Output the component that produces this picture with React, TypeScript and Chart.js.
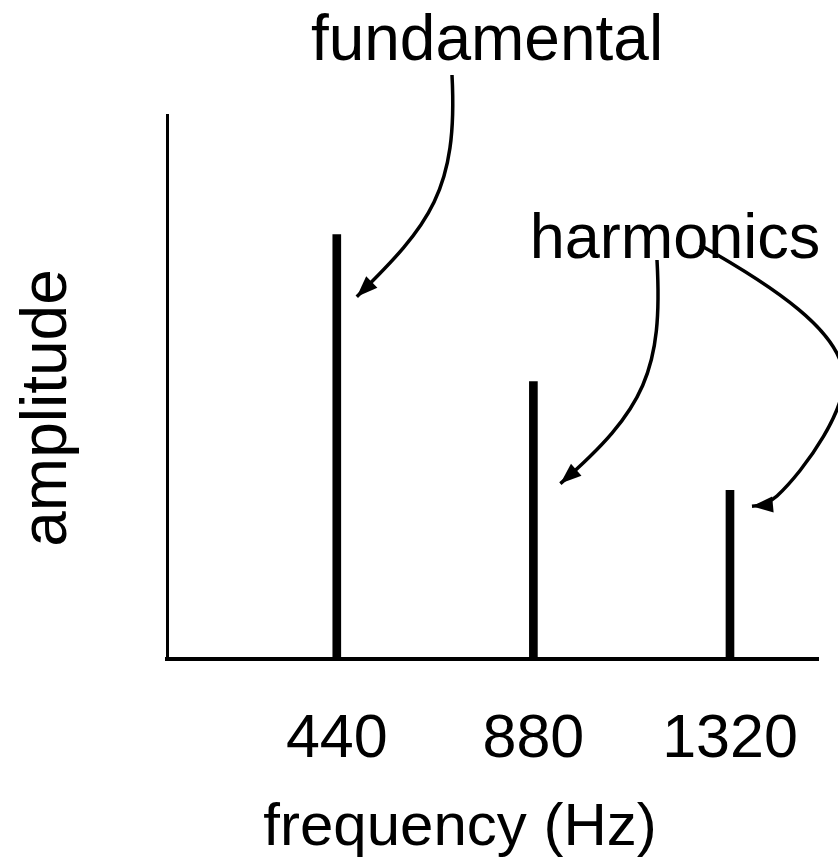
import React, { useEffect, useRef } from 'react';
import { Chart, registerables } from 'chart.js';

Chart.register(...registerables);

// ---- data ----
const frequencies = [440, 880, 1320];
const amplitudes = [78, 51, 31];
const tickLabels = ['440', '880', '1320'];
const xMin = 60;
const xMax = 1517;
const yMin = 0;
const yMax = 100;
const xTitle = 'frequency (Hz)';
const yTitle = 'amplitude';
const fundamentalLabel = 'fundamental';
const harmonicsLabel = 'harmonics';

const FONT = "'Liberation Sans', Arial, Helvetica, sans-serif";

type Pt = [number, number];

function drawArrow(ctx: CanvasRenderingContext2D, segs: Pt[][], start: Pt) {
  ctx.save();
  ctx.strokeStyle = '#000';
  ctx.fillStyle = '#000';
  ctx.lineWidth = 3.5;
  ctx.lineCap = 'butt';
  ctx.lineJoin = 'round';
  ctx.beginPath();
  ctx.moveTo(start[0], start[1]);
  let lastCtrl: Pt = start;
  let end: Pt = start;
  for (const s of segs) {
    if (s.length === 3) {
      ctx.bezierCurveTo(s[0][0], s[0][1], s[1][0], s[1][1], s[2][0], s[2][1]);
      lastCtrl = s[1];
      end = s[2];
    } else if (s.length === 2) {
      ctx.quadraticCurveTo(s[0][0], s[0][1], s[1][0], s[1][1]);
      lastCtrl = s[0];
      end = s[1];
    }
  }
  ctx.stroke();
  const ang = Math.atan2(end[1] - lastCtrl[1], end[0] - lastCtrl[0]);
  const len = 21;
  const half = 8;
  const bx = end[0] - len * Math.cos(ang);
  const by = end[1] - len * Math.sin(ang);
  ctx.beginPath();
  ctx.moveTo(end[0], end[1]);
  ctx.lineTo(bx + half * Math.sin(ang), by - half * Math.cos(ang));
  ctx.lineTo(bx - half * Math.sin(ang), by + half * Math.cos(ang));
  ctx.closePath();
  ctx.fill();
  ctx.restore();
}

const annotationPlugin = {
  id: 'spectrumAnnotations',
  afterDraw(chart: any) {
    const ctx: CanvasRenderingContext2D = chart.ctx;
    const xs = chart.scales.x;
    const ys = chart.scales.y;
    const px = (i: number) => xs.getPixelForValue(frequencies[i]);
    const py = (i: number) => ys.getPixelForValue(amplitudes[i]);

    ctx.save();
    ctx.fillStyle = '#000';
    ctx.textBaseline = 'alphabetic';
    ctx.textAlign = 'center';
    ctx.font = `64px ${FONT}`;
    ctx.fillText(fundamentalLabel, 487, 60);
    ctx.font = `63px ${FONT}`;
    ctx.fillText(harmonicsLabel, 675, 258);
    ctx.font = `60px ${FONT}`;
    ctx.fillText(xTitle, 460, 845);
    ctx.save();
    ctx.font = `64px ${FONT}`;
    ctx.translate(66, 408);
    ctx.rotate(-Math.PI / 2);
    ctx.fillText(yTitle, 0, 0);
    ctx.restore();
    ctx.restore();

    // fundamental arrow
    const t0: Pt = [px(0) + 20, py(0) + 62];
    drawArrow(ctx, [[[458, 190], [430, 225], t0]], [452, 75]);
    // harmonic arrow 1
    const t1: Pt = [px(1) + 27, py(1) + 102];
    drawArrow(ctx, [[[663, 370], [645, 410], t1]], [657, 260]);
    // harmonic arrow 2
    const t2: Pt = [px(2) + 22, py(2) + 16];
    drawArrow(
      ctx,
      [
        [[780, 290], [835, 330], [843, 370]],
        [[851, 405], [805, 470], [777, 496]],
        [[767, 505], t2],
      ],
      [700, 245]
    );
  },
};

export default function App() {
  const ref = useRef<HTMLCanvasElement | null>(null);
  useEffect(() => {
    if (!ref.current) return;
    const chart = new Chart(ref.current, {
      type: 'bar',
      data: {
        datasets: [
          {
            data: frequencies.map((f, i) => ({ x: f, y: amplitudes[i] })),
            backgroundColor: '#000',
            borderWidth: 0,
            barThickness: 8,
          },
        ],
      },
      options: {
        animation: false,
        responsive: false,
        maintainAspectRatio: false,
        events: [],
        layout: { padding: { left: 0, right: 20, top: 115, bottom: 0 } },
        plugins: {
          legend: { display: false },
          tooltip: { enabled: false },
          title: { display: false },
        },
        scales: {
          x: {
            type: 'linear',
            min: xMin,
            max: xMax,
            offset: false,
            grid: { display: false, drawTicks: false },
            border: { display: true, color: '#000', width: 4 },
            afterBuildTicks: (scale: any) => {
              scale.ticks = frequencies.map((v) => ({ value: v }));
            },
            afterFit: (scale: any) => {
              scale.height = 868 - 659;
              scale.paddingLeft = 0;
              scale.paddingRight = 0;
            },
            ticks: {
              autoSkip: false,
              maxRotation: 0,
              padding: 45,
              color: '#000',
              font: { family: FONT, size: 61 },
              callback: (v: any) => {
                const i = frequencies.indexOf(Number(v));
                return i >= 0 ? tickLabels[i] : '';
              },
            },
          },
          y: {
            type: 'linear',
            min: yMin,
            max: yMax,
            grid: { display: false, drawTicks: false },
            border: { display: true, color: '#000', width: 3 },
            ticks: { display: false },
            afterFit: (scale: any) => {
              scale.width = 167;
              scale.paddingTop = 0;
              scale.paddingBottom = 0;
            },
          },
        },
      },
      plugins: [annotationPlugin],
    });
    return () => chart.destroy();
  }, []);
  return (
    <div style={{ position: 'fixed', left: 0, top: 0, width: 838, height: 868, background: '#fff' }}>
      <canvas ref={ref} width={838} height={868} style={{ width: 838, height: 868, display: 'block' }} />
    </div>
  );
}
